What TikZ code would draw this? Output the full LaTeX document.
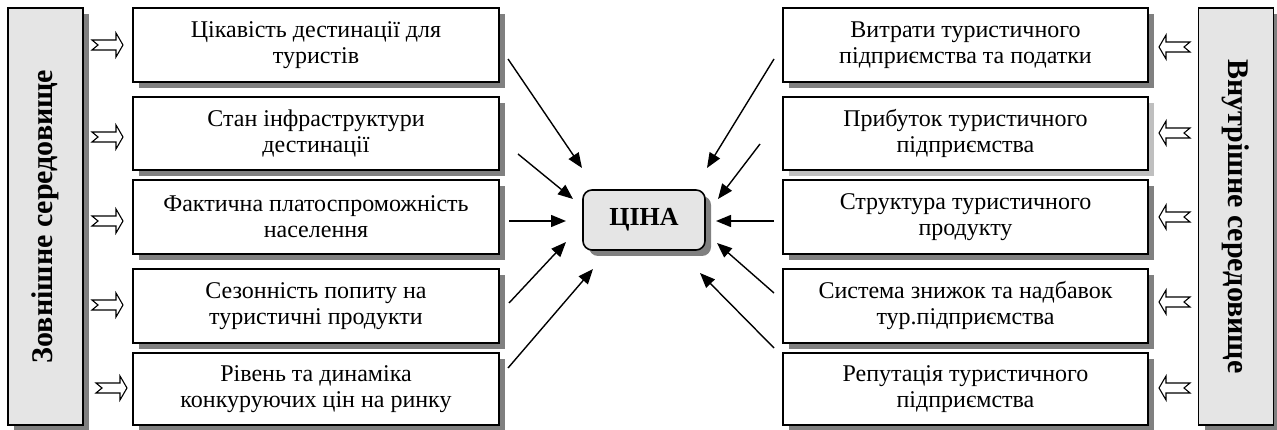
\documentclass[tikz,border=0pt]{standalone}
\usepackage{fontspec}
\setmainfont{Liberation Serif}
\usetikzlibrary{shadows,arrows.meta}
\begin{document}
\begin{tikzpicture}[x=1pt,y=-1pt,
  shad/.style={drop shadow={shadow xshift=6pt, shadow yshift=-6pt, fill=black!50, opacity=1}},
  box/.style={draw, line width=1.6pt, fill=white, minimum width=366pt, inner sep=0pt,
    align=center, font=\fontsize{24}{26}\selectfont, shad},
  bar/.style={draw, line width=1.6pt, fill=black!10, minimum width=75pt, minimum height=417pt, inner sep=0pt, shad},
  barlabel/.style={font=\bfseries\fontsize{30}{34}\selectfont},
  price/.style={draw, line width=1.6pt, fill=black!10, rounded corners=9pt, minimum width=122pt,
    minimum height=60pt, font=\bfseries\fontsize{26}{30}\selectfont, shad},
  conn/.style={line width=1.4pt, -{Triangle[length=15pt,width=12pt]}},
  hollow/.style={line width=1.1pt, fill=white, line join=miter},
  hollowR/.pic={\draw[hollow] (-15,-5) -- (-9,0) -- (-15,5) -- (9,5) -- (9,12) -- (16,0) -- (9,-12) -- (9,-5) -- cycle;},
  hollowL/.pic={\draw[hollow] (15,-5) -- (9,0) -- (15,5) -- (-9,5) -- (-9,12) -- (-16,0) -- (-9,-12) -- (-9,-5) -- cycle;}
]
\useasboundingbox (0,0) rectangle (1277,430);

% side bars
\node[bar] (lbar) at (45.5,216.5) {};
\node[barlabel, rotate=90] (lbartext) at (lbar.center) {Зовнішне середовище};
\node[bar] (rbar) at (1236,216.5) {};
\node[barlabel, rotate=-90] (rbartext) at (rbar.center) {Внутрішне середовище};

% left boxes
\node[box, minimum height=74pt] (l1) at (316,45) {Цікавість дестинації для\\туристів};
\node[box, minimum height=73pt] (l2) at (316,133.5) {Стан інфраструктури\\дестинації};
\node[box, minimum height=74pt] (l3) at (316,217) {Фактична платоспроможність\\населення};
\node[box, minimum height=74pt] (l4) at (316,306) {Сезонність попиту на\\туристичні продукти};
\node[box, minimum height=72pt] (l5) at (316,389) {Рівень та динаміка\\конкуруючих цін на ринку};

% right boxes
\node[box, minimum width=365pt, minimum height=74pt] (r1) at (965.5,45) {Витрати туристичного\\підприємства та податки};
\node[box, minimum width=365pt, minimum height=73pt, drop shadow={shadow xshift=6pt, shadow yshift=-6pt, fill=black!25, opacity=1}] (r2) at (965.5,133.5) {Прибуток туристичного\\підприємства};
\node[box, minimum width=365pt, minimum height=74pt] (r3) at (965.5,217) {Структура туристичного\\продукту};
\node[box, minimum width=365pt, minimum height=74pt] (r4) at (965.5,306) {Система знижок та надбавок\\тур.підприємства};
\node[box, minimum width=365pt, minimum height=72pt] (r5) at (965.5,389) {Репутація туристичного\\підприємства};

% centre
\node[price] (c) at (644,220) {ЦІНА};

% hollow arrows
\pic at (107,45) {hollowR};
\pic at (107,137) {hollowR};
\pic at (107,221) {hollowR};
\pic at (107,305) {hollowR};
\pic at (111,388) {hollowR};
\pic at (1175,47) {hollowL};
\pic at (1175,133) {hollowL};
\pic at (1175,217) {hollowL};
\pic at (1175,302) {hollowL};
\pic at (1175,388) {hollowL};

% connector coordinates
\coordinate (ls1) at (508,59);  \coordinate (le1) at (582,168);
\coordinate (ls2) at (518,154); \coordinate (le2) at (573,199);
\coordinate (ls3) at (509,221); \coordinate (le3) at (566,221);
\coordinate (ls4) at (509,303); \coordinate (le4) at (566,242);
\coordinate (ls5) at (508,368); \coordinate (le5) at (593,269);
\coordinate (rs1) at (774,59);  \coordinate (re1) at (707,168);
\coordinate (rs2) at (760,144); \coordinate (re2) at (718,199);
\coordinate (rs3) at (774,221); \coordinate (re3) at (716,221);
\coordinate (rs4) at (774,293); \coordinate (re4) at (717,243);
\coordinate (rs5) at (774,348); \coordinate (re5) at (700,273);

\foreach \i in {1,...,5} {
  \draw[conn] (ls\i) -- (le\i);
  \draw[conn] (rs\i) -- (re\i);
}
\end{tikzpicture}
\end{document}
